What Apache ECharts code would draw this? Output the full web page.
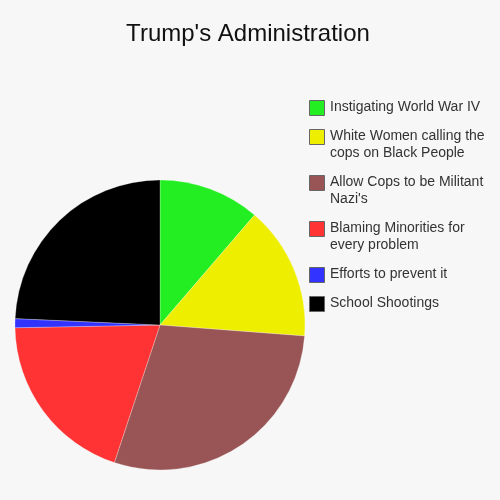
<!DOCTYPE html>
<html>
<head>
<meta charset="utf-8">
<script src="https://cdn.jsdelivr.net/npm/echarts@6/dist/echarts.min.js"></script>
<style>
  html, body { margin: 0; padding: 0; background: #f7f7f7; }
  #chart { width: 500px; height: 500px; }
</style>
</head>
<body>
<div id="chart"></div>
<script>
// slices, clockwise from 12 o'clock
var categories = [
    'Instigating World War IV',
    'White Women calling the cops on Black People',
    "Allow Cops to be Militant Nazi's",
    'Blaming Minorities for every problem',
    'Efforts to prevent it',
    'School Shootings'
];
var legendLabels = [
    'Instigating World War IV',
    'White Women calling the\ncops on Black People',
    'Allow Cops to be Militant\nNazi\'s',
    'Blaming Minorities for\nevery problem',
    'Efforts to prevent it',
    'School Shootings'
];
var values = [11.3, 14.9, 28.9, 19.6, 1.0, 24.3];
var colors = ['#22ee22', '#eeee00', '#995555', '#ff3333', '#3333ff', '#000000'];

// legend icon tops (px)
var legendTops = [100, 129, 175, 221, 267, 296];

initChart();

function initChart() {
    var myChart = echarts.init(document.getElementById('chart'));

    //图例自己画：两行文字时图标对齐第一行
    var legendGraphics = [];
    categories.forEach(function (name, i) {
        legendGraphics.push({
            type: 'rect',
            left: 309,
            top: legendTops[i],
            shape: { width: 15, height: 15 },
            style: { fill: colors[i], stroke: '#666', lineWidth: 1 }
        });
        legendGraphics.push({
            type: 'text',
            left: 330,
            top: legendTops[i] - 1,
            style: {
                text: legendLabels[i],
                font: '14px "Liberation Sans", Arial, sans-serif',
                fill: '#333',
                lineHeight: 17
            }
        });
    });

    var option = {
        backgroundColor: '#f7f7f7',
        animation: false,
        title: {
            text: "Trump's Administration",
            left: 243,
            textAlign: 'center',
            top: 17,
            textStyle: {
                fontFamily: 'Liberation Sans, Arial, sans-serif',
                fontSize: 24,
                fontWeight: 'normal',
                color: '#111'
            }
        },
        graphic: legendGraphics,
        color: colors,
        series: [
            {
                type: 'pie',
                center: [160, 325],
                radius: 145,
                startAngle: 90,
                clockwise: true,
                label: { show: false },
                labelLine: { show: false },
                itemStyle: { borderColor: 'rgba(255,255,255,0.5)', borderWidth: 0.5 },
                emphasis: { disabled: true },
                data: categories.map(function (name, i) {
                    return { name: name, value: values[i] };
                })
            }
        ]
    };
    myChart.setOption(option);
}
</script>
</body>
</html>
